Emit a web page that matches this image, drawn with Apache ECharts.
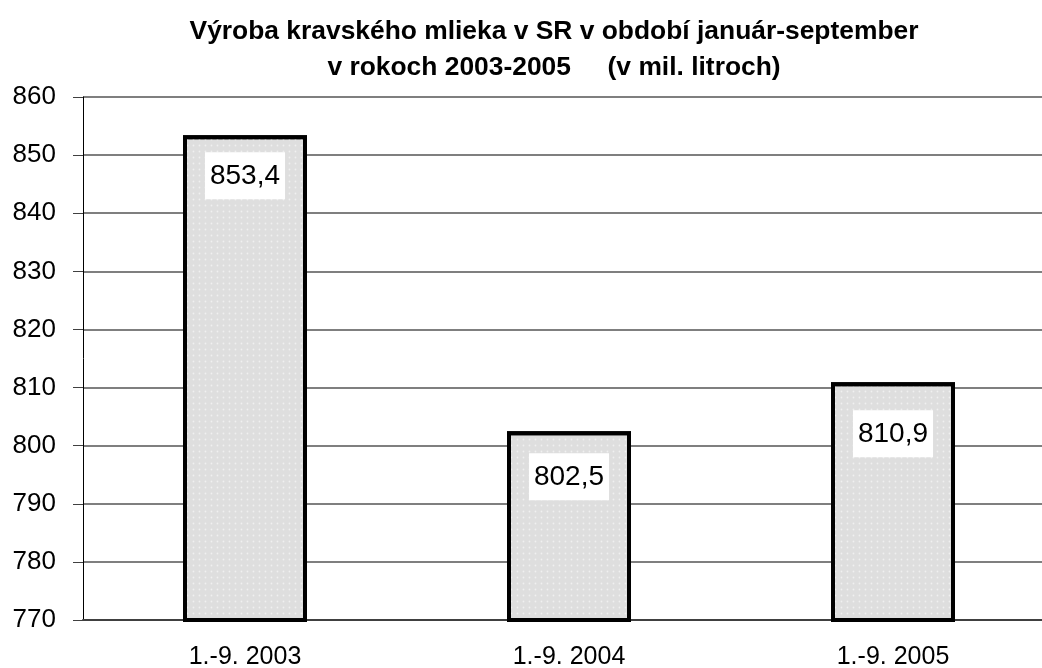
<!DOCTYPE html>
<html>
<head>
<meta charset="utf-8">
<script src="https://cdn.jsdelivr.net/npm/echarts@6/dist/echarts.min.js"></script>
<style>
  html, body { margin: 0; padding: 0; background: #fff; }
  #chart { width: 1042px; height: 668px; }
</style>
</head>
<body>
<div id="chart"></div>
<script>
const categories = ["1.-9. 2003", "1.-9. 2004", "1.-9. 2005"];
const production = [853.4, 802.5, 810.9];
const titleLines = [
  "Výroba kravského mlieka v SR v období január-september",
  "v rokoch 2003-2005     (v mil. litroch)"
];
// gap between bar top and its value box, as placed in the original
const labelGaps = [17, 22, 28];

const font = "Arial, 'Liberation Sans', sans-serif";

const chart = echarts.init(document.getElementById("chart"));
chart.setOption({
  animation: false,
  title: {
    text: titleLines.join("\n"),
    left: 549,
    top: 9,
    textAlign: "center",
    textStyle: {
      fontFamily: font,
      fontWeight: "bold",
      fontSize: 26.4,
      lineHeight: 36,
      color: "#000"
    }
  },
  grid: {
    left: 83, top: 97, width: 972, height: 523,
    containLabel: false,
    outerBoundsMode: "none"
  },
  xAxis: {
    type: "category",
    data: categories,
    axisLine: { lineStyle: { color: "#404040", width: 2 } },
    axisTick: { show: false },
    axisLabel: { margin: 25, fontSize: 25, fontFamily: font, color: "#000" }
  },
  yAxis: {
    type: "value",
    min: 770,
    max: 860,
    interval: 10,
    axisLine: { show: true, lineStyle: { color: "#000", width: 1 } },
    axisTick: { show: true, inside: false, length: 10, lineStyle: { color: "#404040" } },
    splitLine: { lineStyle: { color: "#555", width: 1.5 } },
    axisLabel: { margin: 27, fontSize: 26, fontFamily: font, color: "#000" }
  },
  series: [{
    type: "bar",
    data: production.map((v, i) => ({ value: v, label: { distance: labelGaps[i] } })),
    barWidth: 124,
    itemStyle: {
      color: "#dedede",
      borderColor: "#000",
      borderWidth: 4,
      decal: {
        symbol: "circle",
        symbolSize: 0.6,
        dashArrayX: [[3, 3]],
        dashArrayY: [3, 3],
        color: "rgba(255,255,255,0.55)"
      }
    },
    label: {
      show: true,
      position: "insideTop",
      formatter: p => String(p.value).replace(".", ","),
      backgroundColor: "#fff",
      padding: [10, 5, 9, 5],
      fontSize: 28,
      fontFamily: font,
      color: "#000"
    }
  }]
});
</script>
</body>
</html>
